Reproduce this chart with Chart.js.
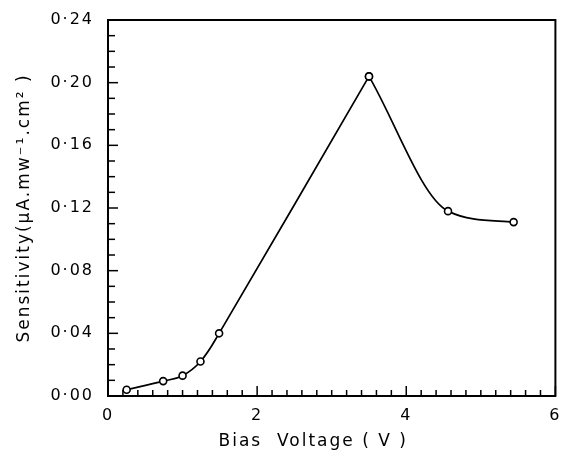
<!DOCTYPE html>
<html>
<head>
<meta charset="utf-8">
<script src="https://cdn.jsdelivr.net/npm/chart.js@4/dist/chart.umd.min.js"></script>
<style>
  html, body { margin: 0; padding: 0; background: #fff; }
</style>
</head>
<body>
<canvas id="sensChart" width="561" height="454"></canvas>
<script>
// values
var biasVoltage = [0.25, 0.74, 1.00, 1.24, 1.49, 3.50, 4.56, 5.44];
var sensitivity = [0.004, 0.0095, 0.013, 0.022, 0.040, 0.204, 0.118, 0.111];
var xTickLabels = ['0', '2', '4', '6'];
var yTickLabels = ['0·00', '0·04', '0·08', '0·12', '0·16', '0·20', '0·24'];
var peakIndex = 5;

function toPoints(from, to) {
    var pts = [];
    for (var i = from; i <= to; i++) {
        pts.push({ x: biasVoltage[i], y: sensitivity[i] });
    }
    return pts;
}

// frame + inward tick marks, like the printed figure
var frameTicks = {
    id: 'frameTicks',
    beforeDraw: function (chart) {
        chart.ctx.letterSpacing = '2px';
    },
    afterDraw: function (chart) {
        var c = chart.ctx;
        var a = chart.chartArea;
        var xs = chart.scales.x;
        var ys = chart.scales.y;
        c.save();
        c.strokeStyle = '#000';
        c.lineWidth = 1.5;
        var i, p, len;
        for (i = 0; i <= 30; i++) {
            p = xs.getPixelForValue(i * 0.2);
            len = (i % 10 === 0) ? 10 : 6;
            c.beginPath();
            c.moveTo(p, a.bottom);
            c.lineTo(p, a.bottom - len);
            c.stroke();
        }
        for (i = 0; i <= 24; i++) {
            p = ys.getPixelForValue(i * 0.01);
            len = (i % 4 === 0) ? 10 : 7;
            c.beginPath();
            c.moveTo(a.left, p);
            c.lineTo(a.left + len, p);
            c.stroke();
        }
        c.lineWidth = 2;
        c.strokeRect(a.left, a.top, a.right - a.left, a.bottom - a.top);
        c.restore();
    }
};

var lineStyle = {
    showLine: true,
    borderColor: '#000',
    borderWidth: 1.7,
    pointRadius: 3.5,
    pointBorderWidth: 1.6,
    pointBorderColor: '#000',
    pointBackgroundColor: '#fff'
};

var ctx = document.getElementById('sensChart').getContext('2d');
var sensChart = new Chart(ctx, {
    type: 'scatter',
    data: {
        datasets: [
            Object.assign({ data: toPoints(0, peakIndex), tension: 0.4 }, lineStyle),
            Object.assign({ data: toPoints(peakIndex, biasVoltage.length - 1), cubicInterpolationMode: 'monotone' }, lineStyle)
        ]
    },
    options: {
        responsive: false,
        animation: false,
        layout: { padding: { top: 20, right: 4, left: 14, bottom: 2 } },
        plugins: {
            legend: { display: false },
            tooltip: { enabled: false }
        },
        scales: {
            x: {
                type: 'linear',
                min: 0,
                max: 6,
                grid: { display: false, drawTicks: false },
                border: { display: false },
                ticks: {
                    stepSize: 2,
                    padding: 10,
                    color: '#000',
                    font: { family: 'DejaVu Sans', size: 16 },
                    callback: function (value) {
                        return xTickLabels[Math.round(value / 2)];
                    }
                },
                title: {
                    display: true,
                    text: 'Bias  Voltage ( V )\u00a0\u00a0\u00a0\u00a0\u00a0',
                    color: '#000',
                    font: { family: 'DejaVu Sans', size: 17 },
                    padding: { top: 3, bottom: 0 }
                },
                afterFit: function (scale) {
                    scale.height = 56;
                    scale.paddingLeft = 0;
                    scale.paddingRight = 0;
                }
            },
            y: {
                min: 0,
                max: 0.24,
                grid: { display: false, drawTicks: false },
                border: { display: false },
                ticks: {
                    stepSize: 0.04,
                    padding: 14,
                    color: '#000',
                    font: { family: 'DejaVu Sans', size: 16 },
                    callback: function (value) {
                        return yTickLabels[Math.round(value / 0.04)];
                    }
                },
                title: {
                    display: true,
                    text: 'Sensitivity(μA.mw⁻¹.cm² )',
                    color: '#000',
                    font: { family: 'DejaVu Sans', size: 17 },
                    padding: { top: 0, bottom: 0 }
                },
                afterFit: function (scale) {
                    scale.width = 94;
                    scale.paddingTop = 0;
                    scale.paddingBottom = 0;
                }
            }
        }
    },
    plugins: [frameTicks]
});
</script>
</body>
</html>
